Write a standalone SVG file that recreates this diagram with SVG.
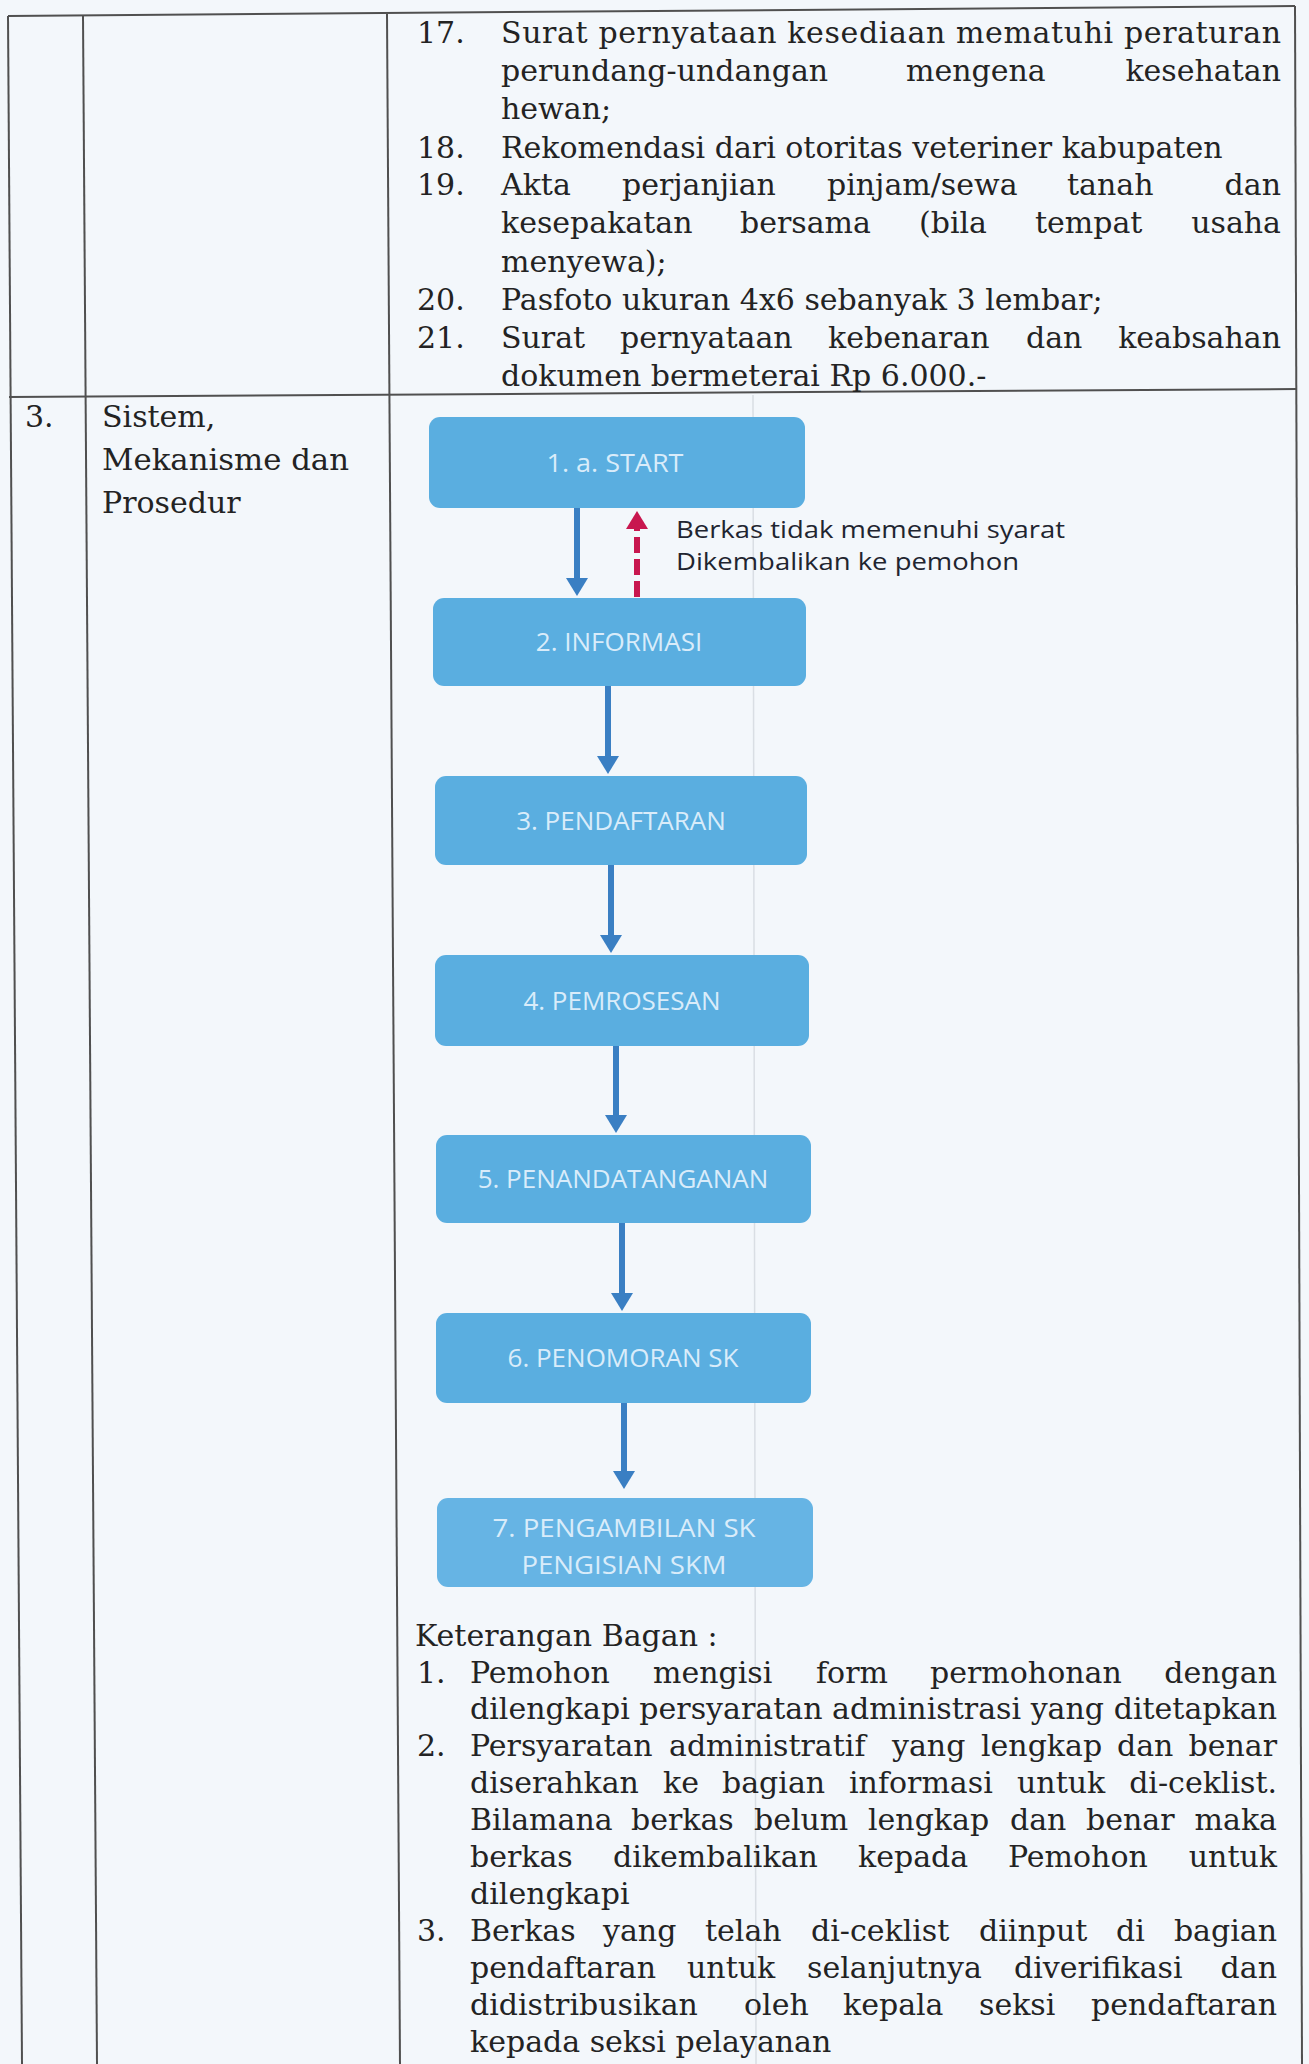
<svg xmlns="http://www.w3.org/2000/svg" width="1309" height="2064" viewBox="0 0 1309 2064">
<style>
.t{font-family:"DejaVu Serif","Liberation Serif",serif;font-size:30px;fill:#232323}
.e{text-anchor:end}
.ln{stroke:#505050;stroke-width:2;fill:none}
.bx{fill:#5aaee0}
.bt{font-family:"Open Sans","Noto Sans",sans-serif;font-size:26px;fill:#d9ecfa;text-anchor:middle}
.lb{font-family:"Open Sans","Noto Sans",sans-serif;font-size:23px;fill:#1f2530}
.ar{stroke:#3a7fc3;stroke-width:6;fill:none}
.rd{stroke:#c8174f;stroke-width:6;fill:none;stroke-dasharray:16 6}
</style>
<defs>
<marker id="ah" viewBox="0 0 18 22" refX="4" refY="11" markerWidth="18" markerHeight="22" markerUnits="userSpaceOnUse" orient="auto"><path d="M0,0 L18,11 L0,22 z" fill="#3a7fc3"/></marker>
<marker id="ahr" viewBox="0 0 18 22" refX="4" refY="11" markerWidth="18" markerHeight="22" markerUnits="userSpaceOnUse" orient="auto"><path d="M0,0 L18,11 L0,22 z" fill="#c8174f"/></marker>
</defs>
<rect width="1309" height="2064" fill="#f3f7fb"/>

<g id="table">
<path class="ln" d="M8,16 L1295,6"/>
<path class="ln" d="M9,397 L1297,389"/>
<path class="ln" d="M8,16 L22,2064"/>
<path class="ln" d="M83,16 L97,2064"/>
<path class="ln" d="M387,14 L400,2064"/>
<path class="ln" d="M1295,6 L1302,2064"/>
<path d="M753,395 L756,2064" stroke="#d9dee4" stroke-width="1.5" fill="none"/>
</g>

<g id="requirements">
<text class="t" x="417" y="43">17.</text>
<text class="t" x="501" y="43" textLength="780" lengthAdjust="spacing">Surat pernyataan kesediaan mematuhi peraturan</text>
<text class="t" y="81"><tspan x="501">perundang-undangan</tspan><tspan x="906">mengena</tspan></text>
<text class="t e" x="1281" y="81">kesehatan</text>
<text class="t" x="501" y="119">hewan;</text>
<text class="t" x="417" y="158">18.</text>
<text class="t" x="501" y="158">Rekomendasi dari otoritas veteriner kabupaten</text>
<text class="t" x="417" y="195">19.</text>
<text class="t" y="195"><tspan x="501">Akta</tspan><tspan x="622">perjanjian</tspan><tspan x="827">pinjam/sewa</tspan><tspan x="1067">tanah</tspan></text>
<text class="t e" x="1281" y="195">dan</text>
<text class="t" y="233"><tspan x="501">kesepakatan</tspan><tspan x="740">bersama</tspan><tspan x="919">(bila</tspan><tspan x="1035">tempat</tspan></text>
<text class="t e" x="1281" y="233">usaha</text>
<text class="t" x="501" y="272">menyewa);</text>
<text class="t" x="417" y="310">20.</text>
<text class="t" x="501" y="310">Pasfoto ukuran 4x6 sebanyak 3 lembar;</text>
<text class="t" x="417" y="348">21.</text>
<text class="t" y="348"><tspan x="501">Surat</tspan><tspan x="620">pernyataan</tspan><tspan x="828">kebenaran</tspan><tspan x="1026">dan</tspan></text>
<text class="t e" x="1281" y="348">keabsahan</text>
<text class="t" x="501" y="386">dokumen bermeterai Rp 6.000.-</text>
</g>

<g id="row-label">
<text class="t" x="25" y="427">3.</text>
<text class="t" x="102" y="427">Sistem,</text>
<text class="t" x="102" y="470" textLength="247" lengthAdjust="spacingAndGlyphs">Mekanisme dan</text>
<text class="t" x="102" y="513">Prosedur</text>
</g>

<g id="connectors">
<line class="ar" x1="577" y1="508" x2="577" y2="582" marker-end="url(#ah)"/>
<line class="rd" x1="637" y1="597" x2="637" y2="525" marker-end="url(#ahr)"/>
<line class="ar" x1="608" y1="686" x2="608" y2="760" marker-end="url(#ah)"/>
<line class="ar" x1="611" y1="865" x2="611" y2="939" marker-end="url(#ah)"/>
<line class="ar" x1="616" y1="1046" x2="616" y2="1119" marker-end="url(#ah)"/>
<line class="ar" x1="622" y1="1223" x2="622" y2="1297" marker-end="url(#ah)"/>
<line class="ar" x1="624" y1="1403" x2="624" y2="1475" marker-end="url(#ah)"/>
<text class="lb" x="676" y="538" textLength="389" lengthAdjust="spacingAndGlyphs">Berkas tidak memenuhi syarat</text>
<text class="lb" x="676" y="570" textLength="343" lengthAdjust="spacingAndGlyphs">Dikembalikan ke pemohon</text>
</g>

<g id="n1"><rect class="bx" x="429" y="417" width="376" height="91" rx="11"/><text class="bt" x="615" y="472" textLength="137" lengthAdjust="spacingAndGlyphs">1. a. START</text></g>
<g id="n2"><rect class="bx" x="433" y="598" width="373" height="88" rx="11"/><text class="bt" x="619" y="651">2. INFORMASI</text></g>
<g id="n3"><rect class="bx" x="435" y="776" width="372" height="89" rx="11"/><text class="bt" x="621" y="830">3. PENDAFTARAN</text></g>
<g id="n4"><rect class="bx" x="435" y="955" width="374" height="91" rx="11"/><text class="bt" x="622" y="1010">4. PEMROSESAN</text></g>
<g id="n5"><rect class="bx" x="436" y="1135" width="375" height="88" rx="11"/><text class="bt" x="623" y="1188">5. PENANDATANGANAN</text></g>
<g id="n6"><rect class="bx" x="436" y="1313" width="375" height="90" rx="11"/><text class="bt" x="623" y="1367">6. PENOMORAN SK</text></g>
<g id="n7"><rect class="bx" x="437" y="1498" width="376" height="89" rx="11" style="fill:#66b4e4"/><text class="bt" x="624" y="1537" textLength="263" lengthAdjust="spacingAndGlyphs">7. PENGAMBILAN SK</text><text class="bt" x="624" y="1574" textLength="205" lengthAdjust="spacingAndGlyphs">PENGISIAN SKM</text></g>

<g id="legend">
<text class="t" x="415" y="1646">Keterangan Bagan :</text>
<text class="t" x="417" y="1683">1.</text>
<text class="t" y="1683"><tspan x="470">Pemohon</tspan><tspan x="653">mengisi</tspan><tspan x="816">form</tspan><tspan x="930">permohonan</tspan></text>
<text class="t e" x="1277" y="1683">dengan</text>
<text class="t" x="470" y="1719" textLength="807" lengthAdjust="spacing">dilengkapi persyaratan administrasi yang ditetapkan</text>
<text class="t" x="417" y="1756">2.</text>
<text class="t" y="1756"><tspan x="470">Persyaratan</tspan><tspan x="669">administratif</tspan><tspan x="892">yang</tspan><tspan x="981">lengkap</tspan><tspan x="1117">dan</tspan></text>
<text class="t e" x="1277" y="1756">benar</text>
<text class="t" y="1793"><tspan x="470">diserahkan</tspan><tspan x="663">ke</tspan><tspan x="722">bagian</tspan><tspan x="849">informasi</tspan><tspan x="1017">untuk</tspan></text>
<text class="t e" x="1277" y="1793">di-ceklist.</text>
<text class="t" y="1830"><tspan x="470">Bilamana</tspan><tspan x="631">berkas</tspan><tspan x="754">belum</tspan><tspan x="868">lengkap</tspan><tspan x="1010">dan</tspan><tspan x="1086">benar</tspan></text>
<text class="t e" x="1277" y="1830">maka</text>
<text class="t" y="1867"><tspan x="470">berkas</tspan><tspan x="613">dikembalikan</tspan><tspan x="858">kepada</tspan><tspan x="1008">Pemohon</tspan></text>
<text class="t e" x="1277" y="1867">untuk</text>
<text class="t" x="470" y="1904">dilengkapi</text>
<text class="t" x="417" y="1941">3.</text>
<text class="t" y="1941"><tspan x="470">Berkas</tspan><tspan x="603">yang</tspan><tspan x="705">telah</tspan><tspan x="811">di-ceklist</tspan><tspan x="979">diinput</tspan><tspan x="1116">di</tspan></text>
<text class="t e" x="1277" y="1941">bagian</text>
<text class="t" y="1978"><tspan x="470">pendaftaran</tspan><tspan x="687">untuk</tspan><tspan x="807">selanjutnya</tspan><tspan x="1014">diverifikasi</tspan></text>
<text class="t e" x="1277" y="1978">dan</text>
<text class="t" y="2015"><tspan x="470">didistribusikan</tspan><tspan x="744">oleh</tspan><tspan x="843">kepala</tspan><tspan x="979">seksi</tspan></text>
<text class="t e" x="1277" y="2015">pendaftaran</text>
<text class="t" x="470" y="2052">kepada seksi pelayanan</text>
</g>
</svg>
